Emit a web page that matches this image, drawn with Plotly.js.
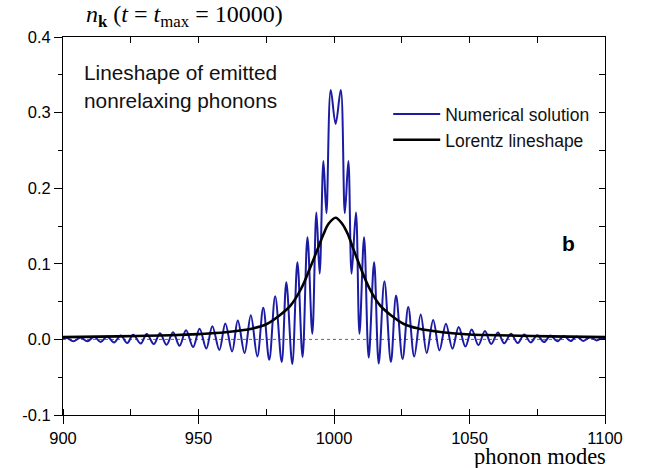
<!DOCTYPE html>
<html>
<head>
<meta charset="utf-8">
<script src="https://cdn.plot.ly/plotly-3.0.1.min.js"></script>
<style>html,body{margin:0;padding:0;background:#fff}#plot{width:650px;height:468px}</style>
</head>
<body>
<div id="plot"></div>
<script>
// Numerical solution: extrema (phonon mode, n_k)
const numX = [900, 901.4, 903.8, 906.5, 909, 911.5, 913.9, 916.3, 918.8, 921.3, 923.7, 925.9, 928.7, 930.9, 933.5, 935.8, 938.2, 940.6, 943, 945.4, 948, 950.4, 952.9, 955.1, 957.7, 959.9, 962.4, 964.5, 967, 969.3, 971.7, 973.9, 976.1, 978.3, 980.7, 982.4, 984.6, 986.5, 988.4, 990.2, 992.0, 993.5, 994.7, 996.1, 997.2, 998.8,
  1000.6, 1002.5, 1004.0, 1005.3, 1006.5, 1008.1, 1009.4, 1011.1, 1012.8, 1014.8, 1016.5, 1018.6, 1021.0, 1022.9, 1025.3, 1027.4, 1029.6, 1032.0, 1034.2, 1036.6, 1038.9, 1041.3, 1043.7, 1046.0, 1048.5, 1050.8, 1053.3, 1055.7, 1058, 1060.5, 1062.8, 1065.3, 1067.8, 1070.2, 1072.6, 1075, 1077.5, 1079.9, 1082.4, 1084.9, 1087.3, 1089.5, 1092, 1094.5, 1096.9, 1099.1, 1100];
const numY = [0.0008, 0.0022, -0.0026, 0.0025, -0.0026, 0.0035, -0.0035, 0.004, -0.004, 0.005, -0.0048, 0.006, -0.0055, 0.0072, -0.0062, 0.008, -0.0072, 0.0095, -0.0084, 0.012, -0.0101, 0.014, -0.012, 0.0175, -0.014, 0.021, -0.016, 0.025, -0.018, 0.032, -0.0225, 0.042, -0.027, 0.057, -0.030, 0.0755, -0.0325, 0.102, -0.0234, 0.135, 0.0075, 0.168, 0.087, 0.236, 0.167, 0.330,
  0.285, 0.330, 0.167, 0.236, 0.087, 0.168, 0.0075, 0.135, -0.024, 0.102, -0.032, 0.077, -0.030, 0.058, -0.026, 0.043, -0.0227, 0.033, -0.018, 0.0255, -0.0146, 0.0207, -0.0123, 0.0163, -0.0095, 0.013, -0.0075, 0.011, -0.006, 0.009, -0.0052, 0.0075, -0.0048, 0.0066, -0.004, 0.0055, -0.0035, 0.005, -0.0026, 0.0044, -0.0022, 0.004, -0.002, 0.003, -0.0013, 0.0022, 0.0008];

// Lorentz lineshape: points
const lorX = [900, 920, 940, 950, 960, 970, 975, 980, 984, 988, 991, 994, 996, 998, 1000.6, 1003, 1005, 1007, 1010, 1013, 1017, 1021, 1026, 1031, 1040, 1050, 1060, 1080, 1100];
const lorY = [0.003, 0.004, 0.0055, 0.007, 0.0095, 0.0145, 0.02, 0.032, 0.045, 0.068, 0.093, 0.12, 0.138, 0.153, 0.161, 0.153, 0.140, 0.121, 0.093, 0.068, 0.045, 0.032, 0.02, 0.0145, 0.0095, 0.0065, 0.0055, 0.004, 0.003];

const seriesNames = ["Numerical solution", "Lorentz lineshape"];
const yTickVals = [-0.1, 0.0, 0.1, 0.2, 0.3, 0.4];
const yTickText = ["-0.1", "0.0", "0.1", "0.2", "0.3", "0.4"];
const xTickVals = [900, 950, 1000, 1050, 1100];
const xTickText = ["900", "950", "1000", "1050", "1100"];

const sans = "Arial, 'Liberation Sans', Helvetica, sans-serif";
const serif = "'Liberation Serif', 'Times New Roman', Times, serif";

const traces = [
  {x: numX, y: numY, name: seriesNames[0], type: "scatter", mode: "lines",
   line: {color: "#1b1ba4", width: 2, shape: "spline", smoothing: 1}},
  {x: lorX, y: lorY, name: seriesNames[1], type: "scatter", mode: "lines",
   line: {color: "#000000", width: 2.6, shape: "spline", smoothing: 1}},
  // invisible copy on the secondary (top/right) axes so that the frame axes are drawn
  {x: lorX, y: lorY, xaxis: "x2", yaxis: "y2", type: "scatter", mode: "lines", showlegend: false,
   hoverinfo: "skip", opacity: 0, line: {width: 0}}
];

const layout = {
  width: 650, height: 468,
  margin: {l: 63, r: 45, t: 37, b: 53, pad: 0},
  paper_bgcolor: "#fff", plot_bgcolor: "#fff",
  font: {family: sans, color: "#000", size: 16},
  showlegend: true,
  legend: {x: 0.600, y: 0.8435, xanchor: "left", yanchor: "top", bgcolor: "rgba(0,0,0,0)",
           font: {family: sans, size: 17.5, color: "#111"}, tracegroupgap: 0, itemwidth: 47},
  xaxis: {range: [900, 1100], tickvals: xTickVals, ticktext: xTickText, ticks: "outside", ticklen: 8,
          tickcolor: "#000", showline: true, linecolor: "#000", linewidth: 1, showgrid: false, zeroline: false,
          tickfont: {family: sans, size: 16.5},
          minor: {dtick: 25, tick0: 900, ticks: "inside", ticklen: 6, tickcolor: "#000", showgrid: false}},
  yaxis: {range: [-0.1, 0.4], tickvals: yTickVals, ticktext: yTickText, ticks: "outside", ticklen: 8,
          tickcolor: "#000", showline: true, linecolor: "#000", linewidth: 1, showgrid: false, zeroline: false,
          tickfont: {family: sans, size: 16.5},
          minor: {dtick: 0.05, tick0: 0, ticks: "outside", ticklen: 4, tickcolor: "#000", showgrid: false}},
  xaxis2: {overlaying: "x", side: "top", anchor: "y2", range: [900, 1100], dtick: 25, tick0: 900, ticks: "inside",
           ticklen: 6, tickcolor: "#000", showticklabels: false, showline: true, linecolor: "#000", showgrid: false, zeroline: false},
  yaxis2: {overlaying: "y", side: "right", anchor: "x2", range: [-0.1, 0.4], dtick: 0.05, tick0: 0, ticks: "inside",
           ticklen: 6, tickcolor: "#000", showticklabels: false, showline: true, linecolor: "#000", showgrid: false, zeroline: false},
  shapes: [
    {type: "line", xref: "paper", x0: 0, x1: 1, yref: "y", y0: 0, y1: 0, layer: "below",
     line: {color: "#666", width: 1, dash: "dot"}}
  ],
  annotations: [
    {text: "<i>n</i><sub><b>k</b></sub> (<i>t</i> = <i>t</i><sub>max</sub> = 10000)", xref: "paper", yref: "paper",
     x: 0.2245, y: 1.055, xanchor: "center", yanchor: "middle", showarrow: false,
     font: {family: serif, size: 24, color: "#000"}},
    {text: "Lineshape of emitted", xref: "paper", yref: "paper", x: 0.035, y: 0.907, xanchor: "left", yanchor: "middle",
     showarrow: false, font: {family: sans, size: 20.8, color: "#111"}},
    {text: "nonrelaxing phonons", xref: "paper", yref: "paper", x: 0.035, y: 0.833, xanchor: "left", yanchor: "middle",
     showarrow: false, font: {family: sans, size: 20.8, color: "#111"}},
    {text: "<b>b</b>", xref: "paper", yref: "paper", x: 0.932, y: 0.455, xanchor: "center", yanchor: "middle",
     showarrow: false, font: {family: sans, size: 21, color: "#000"}},
    {text: "phonon modes", xref: "paper", yref: "paper", x: 1.0055, y: -0.1095, xanchor: "right", yanchor: "middle",
     showarrow: false, font: {family: serif, size: 22.5, color: "#000"}}
  ]
};

Plotly.newPlot("plot", traces, layout, {staticPlot: true, displayModeBar: false});
</script>
</body>
</html>
